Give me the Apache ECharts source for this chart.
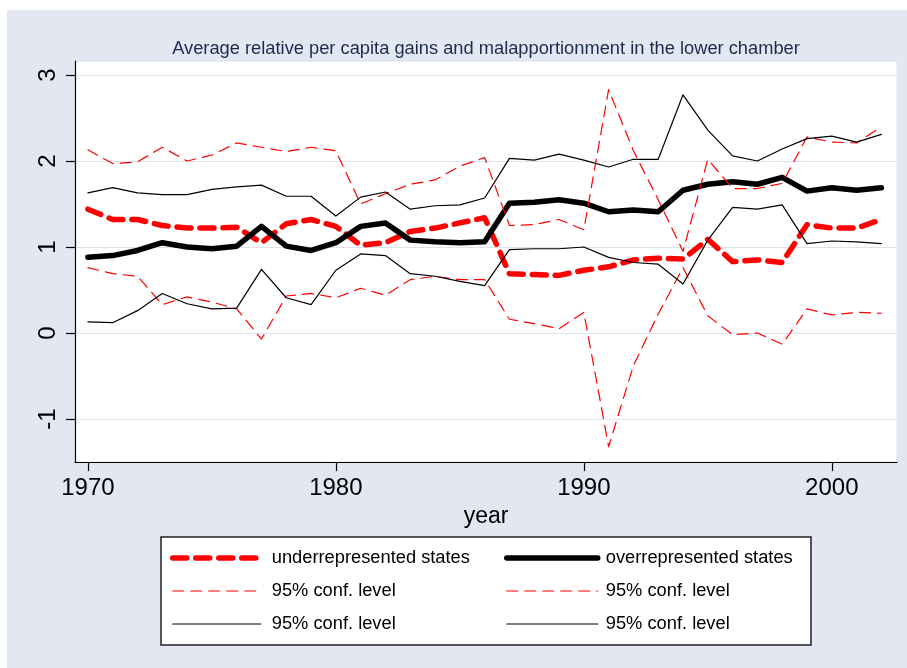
<!DOCTYPE html>
<html>
<head>
<meta charset="utf-8">
<script src="https://cdn.jsdelivr.net/npm/echarts@6/dist/echarts.min.js"></script>
<style>
  html, body { margin: 0; padding: 0; background: #fff; }
  #chart { width: 907px; height: 668px; }
</style>
</head>
<body>
<div id="chart"></div>
<script>
// years on the x axis
const years = [1970, 1971, 1972, 1973, 1974, 1975, 1976, 1977, 1978, 1979, 1980,
  1981, 1982, 1983, 1984, 1985, 1986, 1987, 1988, 1989, 1990, 1991,
  1992, 1993, 1994, 1995, 1996, 1997, 1998, 1999, 2000, 2001, 2002];

// underrepresented states, mean and 95% band
const under = [1.44, 1.32, 1.32, 1.25, 1.22, 1.22, 1.23, 1.05, 1.27, 1.32, 1.24,
  1.02, 1.05, 1.18, 1.22, 1.28, 1.34, 0.69, 0.68, 0.67, 0.73, 0.77,
  0.85, 0.87, 0.86, 1.09, 0.83, 0.85, 0.82, 1.26, 1.22, 1.22, 1.32];
const underHi = [2.13, 1.97, 1.99, 2.16, 2.00, 2.07, 2.21, 2.16, 2.11, 2.16, 2.12,
  1.50, 1.62, 1.73, 1.78, 1.94, 2.04, 1.25, 1.26, 1.32, 1.20, 2.83,
  2.12, 1.55, 0.95, 2.02, 1.68, 1.68, 1.74, 2.28, 2.22, 2.21, 2.40];
const underLo = [0.76, 0.69, 0.66, 0.33, 0.42, 0.36, 0.28, -0.07, 0.43, 0.46, 0.41,
  0.52, 0.44, 0.62, 0.66, 0.62, 0.62, 0.16, 0.11, 0.05, 0.24, -1.32,
  -0.38, 0.22, 0.76, 0.20, -0.02, 0.00, -0.13, 0.28, 0.21, 0.24, 0.23];

// overrepresented states, mean and 95% band
const over = [0.88, 0.90, 0.96, 1.05, 1.00, 0.98, 1.01, 1.24, 1.01, 0.96, 1.05,
  1.24, 1.28, 1.08, 1.06, 1.05, 1.06, 1.51, 1.52, 1.55, 1.51, 1.41,
  1.43, 1.41, 1.66, 1.73, 1.76, 1.73, 1.81, 1.65, 1.69, 1.66, 1.69];
const overHi = [1.63, 1.69, 1.63, 1.61, 1.61, 1.67, 1.70, 1.72, 1.59, 1.59, 1.36,
  1.58, 1.64, 1.44, 1.48, 1.49, 1.57, 2.03, 2.01, 2.08, 2.01, 1.93,
  2.02, 2.02, 2.77, 2.36, 2.06, 2.00, 2.14, 2.26, 2.29, 2.22, 2.31];
const overLo = [0.13, 0.12, 0.26, 0.46, 0.34, 0.28, 0.29, 0.74, 0.41, 0.33, 0.73,
  0.92, 0.90, 0.69, 0.66, 0.60, 0.55, 0.97, 0.98, 0.98, 1.00, 0.88,
  0.82, 0.80, 0.57, 1.08, 1.46, 1.44, 1.49, 1.04, 1.07, 1.06, 1.04];

const xTicks = [1970, 1980, 1990, 2000];
const yTicks = [-1, 0, 1, 2, 3];

const labels = {
  under: 'underrepresented states',
  over: 'overrepresented states',
  underHi: '95% conf. level',
  underLo: '95% conf. level',
  overHi: '95% conf. level',
  overLo: '95% conf. level'
};

const font = '"Liberation Sans", Arial, Helvetica, sans-serif';
const pairs = arr => years.map((y, i) => [y, arr[i]]);

const styles = {
  under: { color: '#ff0000', width: 5.5, type: [14, 9] },
  over: { color: '#000000', width: 5.5, type: 'solid' },
  underHi: { color: '#ff0000', width: 1.2, type: [11, 7] },
  underLo: { color: '#ff0000', width: 1.2, type: [11, 7] },
  overHi: { color: '#000000', width: 1.2, type: 'solid' },
  overLo: { color: '#000000', width: 1.2, type: 'solid' }
};

const mkLine = (name, arr) => ({
  name: name,
  type: 'line',
  data: pairs(arr),
  symbol: 'none',
  silent: true,
  lineStyle: Object.assign({ cap: 'round', join: 'round' }, styles[name]),
  itemStyle: { color: styles[name].color },
  animation: false
});

const legendItem = name => ({
  name: name,
  itemStyle: { opacity: 0 },
  lineStyle: Object.assign({ cap: 'round', join: 'round', opacity: 1 }, styles[name])
});

const chart = echarts.init(document.getElementById('chart'));

chart.setOption({
  backgroundColor: '#fff',
  animation: false,
  textStyle: { fontFamily: font },
  graphic: [
    // outer lavender panel
    { type: 'rect', z: -100, silent: true, shape: { x: 7, y: 10, width: 900, height: 658 },
      style: { fill: '#e2e7f1' } },
    // legend box
    { type: 'rect', z: -50, silent: true, shape: { x: 161, y: 537, width: 650, height: 108 },
      style: { fill: '#fff', stroke: '#222', lineWidth: 1.5 } }
  ],
  title: {
    text: 'Average relative per capita gains and malapportionment in the lower chamber',
    left: 481,
    top: 35,
    textAlign: 'center',
    textStyle: { fontFamily: font, fontSize: 18.3, fontWeight: 'normal', color: '#1c2b4e' }
  },
  grid: {
    left: 75, right: 10, top: 61, bottom: 206,
    show: true, backgroundColor: '#fff', borderColor: '#dde2ec', borderWidth: 1
  },
  xAxis: {
    type: 'value',
    min: 1969.48,
    max: 2002.63,
    name: 'year',
    nameLocation: 'middle',
    nameGap: 40,
    nameTextStyle: { fontFamily: font, fontSize: 23, color: '#000' },
    axisLine: { show: true, onZero: false, lineStyle: { color: '#000', width: 1.2 } },
    axisTick: { show: true, length: 9, customValues: xTicks, lineStyle: { color: '#000', width: 1.2 } },
    axisLabel: { customValues: xTicks, margin: 14, fontSize: 24, color: '#000', fontFamily: font,
      formatter: v => String(v) },
    splitLine: { show: false }
  },
  yAxis: {
    type: 'value',
    min: -1.5,
    max: 3.163,
    axisLine: { show: true, onZero: false, lineStyle: { color: '#000', width: 1.2 } },
    axisTick: { show: true, length: 9, customValues: yTicks, lineStyle: { color: '#000', width: 1.2 } },
    axisLabel: { customValues: yTicks, rotate: 90, margin: 15, fontSize: 24, color: '#000', fontFamily: font },
    splitLine: { show: true, lineStyle: { color: '#dde2ec', width: 1.2 } }
  },
  legend: [
    {
      data: ['under', 'underHi', 'overHi'].map(legendItem),
      left: 165, top: 543, orient: 'vertical',
      itemWidth: 88, itemHeight: 14, itemGap: 13,
      selectedMode: false,
      formatter: n => labels[n],
      textStyle: { fontFamily: font, fontSize: 18.3, color: '#000', lineHeight: 20, padding: [0, 0, 0, 6] }
    },
    {
      data: ['over', 'underLo', 'overLo'].map(legendItem),
      left: 499, top: 543, orient: 'vertical',
      itemWidth: 91, itemHeight: 14, itemGap: 13,
      selectedMode: false,
      formatter: n => labels[n],
      textStyle: { fontFamily: font, fontSize: 18.3, color: '#000', lineHeight: 20, padding: [0, 0, 0, 3] }
    }
  ],
  series: ['under', 'over', 'underHi', 'underLo', 'overHi', 'overLo'].map(n =>
    mkLine(n, { under, over, underHi, underLo, overHi, overLo }[n]))
});
</script>
</body>
</html>
